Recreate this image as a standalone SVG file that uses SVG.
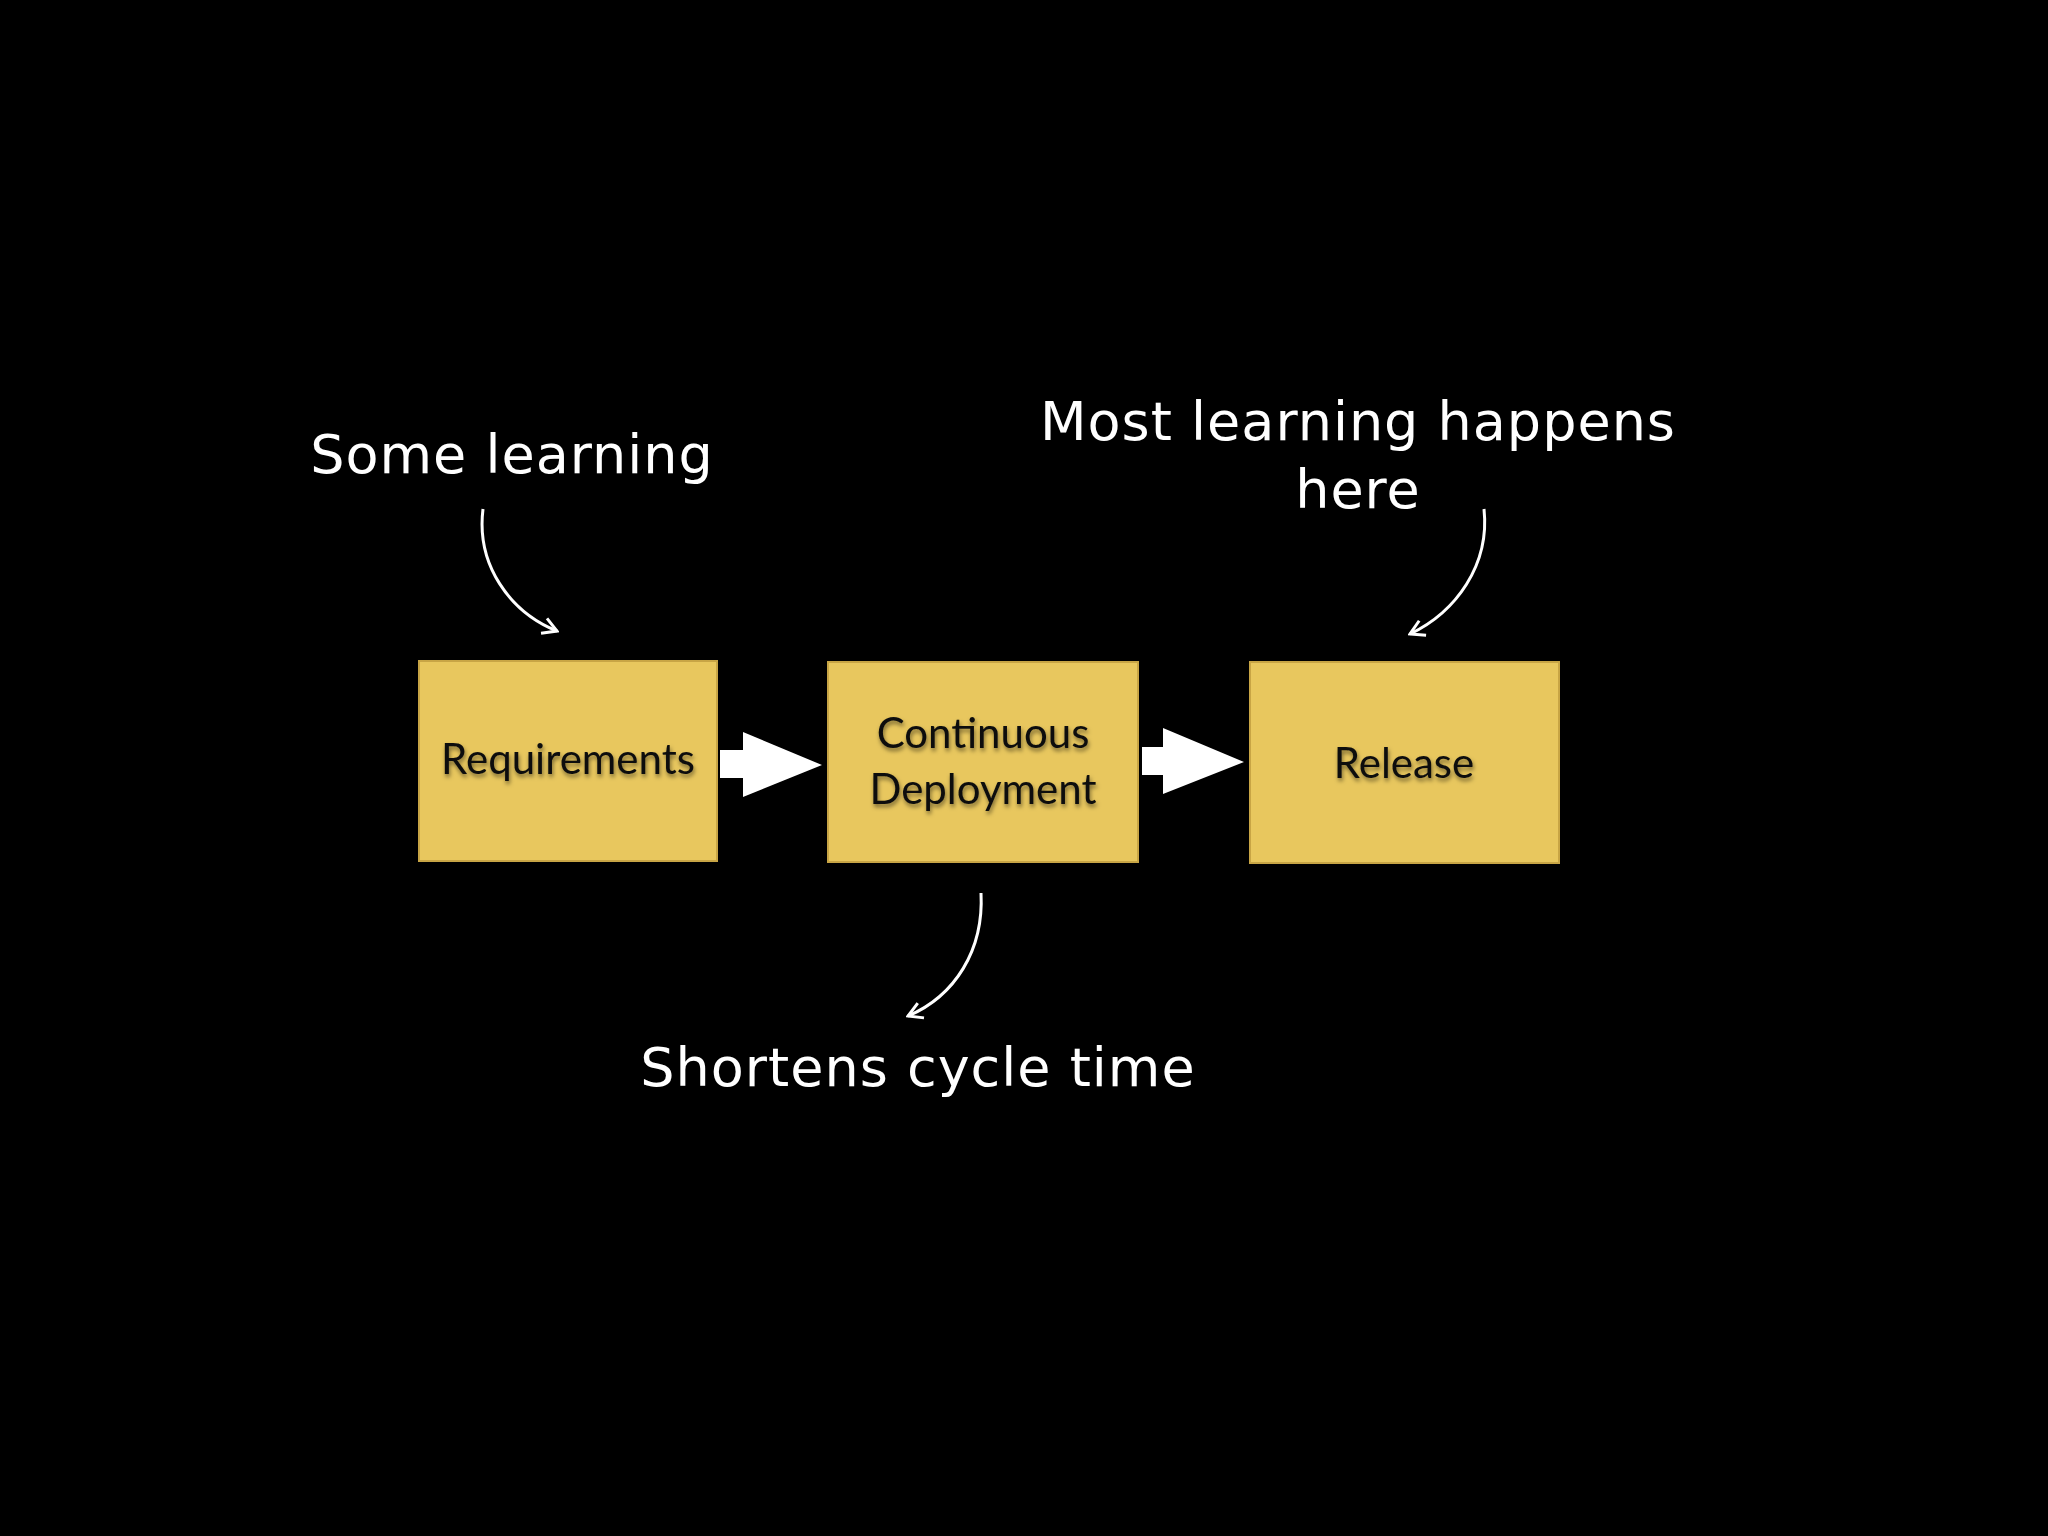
<svg xmlns="http://www.w3.org/2000/svg" width="2048" height="1536" viewBox="0 0 2048 1536">
<style>
.box{fill:#E8C75E;stroke:#C8A545;stroke-width:2}
.lbl{font-family:Lato,"Open Sans",sans-serif;font-size:42px;fill:#111;text-anchor:middle;filter:url(#sh)}
.note{font-family:"DejaVu Sans",sans-serif;font-size:54px;fill:#fff;text-anchor:middle;letter-spacing:1px}
.curve{fill:none;stroke:#fff;stroke-width:3;marker-end:url(#ah)}
.blk{fill:#fff}
</style>
<defs>
<marker id="ah" viewBox="0 0 20 20" refX="18" refY="10" markerWidth="20" markerHeight="20" markerUnits="userSpaceOnUse" orient="auto">
<path d="M4,2 L18,10 L4,18" fill="none" stroke="#fff" stroke-width="3"/>
</marker>
<filter id="sh" x="-10%" y="-20%" width="120%" height="150%"><feDropShadow dx="1" dy="3" stdDeviation="2" flood-color="#000" flood-opacity="0.5"/></filter>
</defs>
<rect width="2048" height="1536" fill="#000"/>
<g id="requirements"><rect class="box" x="419" y="661" width="298" height="200"/><text class="lbl" x="568" y="774">Requirements</text></g>
<g id="continuous-deployment"><rect class="box" x="828" y="662" width="310" height="200"/><text class="lbl" x="983" y="748">Continuous</text><text class="lbl" x="983" y="804">Deployment</text></g>
<g id="release"><rect class="box" x="1250" y="662" width="309" height="201"/><text class="lbl" x="1404" y="778">Release</text></g>
<g id="connectors">
<path class="blk" d="M720,750 H743 V732 L822,765 L743,797 V778 H720 Z"/>
<path class="blk" d="M1142,747 H1163 V728 L1244,762 L1163,794 V775 H1142 Z"/>
<path class="curve" d="M483,509 C476,565 510,612 557,631"/>
<path class="curve" d="M1484,509 C1490,565 1456,612 1410,634"/>
<path class="curve" d="M981,893 C984,950 955,996 908,1016"/>
</g>
<g id="notes">
<text class="note" x="512" y="473">Some learning</text>
<text class="note" x="1358" y="440">Most learning happens</text>
<text class="note" x="1358" y="508">here</text>
<text class="note" x="918" y="1086">Shortens cycle time</text>
</g>
</svg>
